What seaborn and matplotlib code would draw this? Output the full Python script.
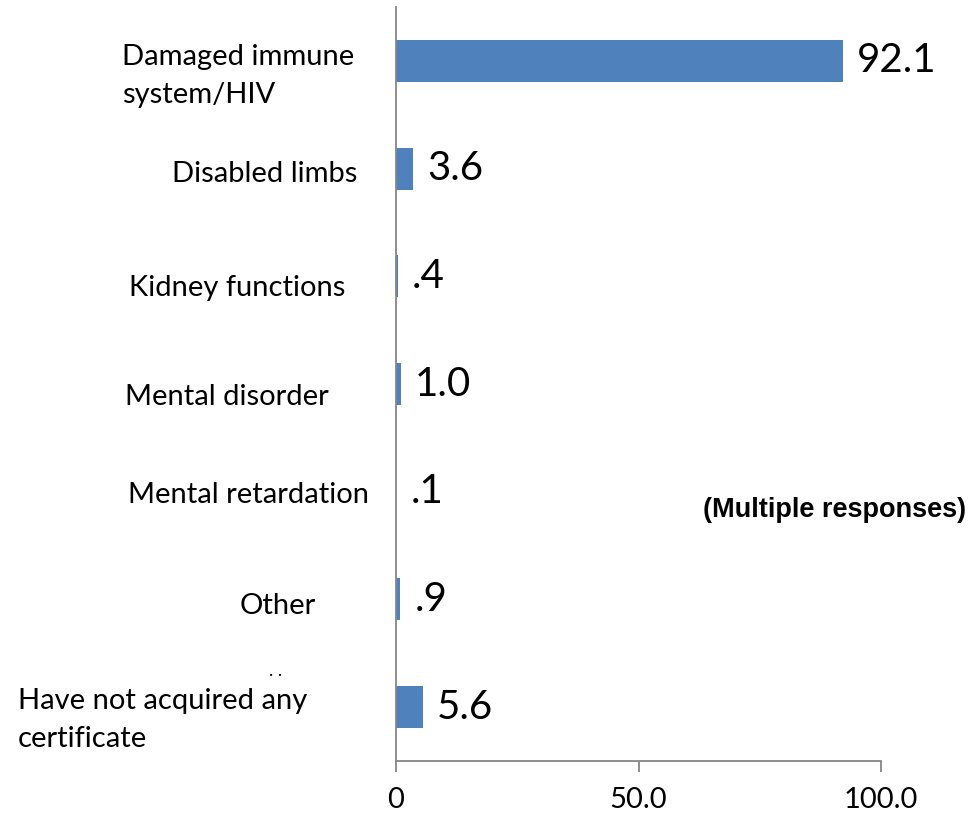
import numpy as np
import pandas as pd
import matplotlib
matplotlib.use("Agg")
import matplotlib.pyplot as plt
import matplotlib.transforms as mtransforms
import seaborn as sns

# ---- data ----
categories = [
    "Damaged immune\nsystem/HIV",
    "Disabled limbs",
    "Kidney functions",
    "Mental disorder",
    "Mental retardation",
    "Other",
    "Have not acquired any\ncertificate",
]
values = [92.1, 3.6, 0.4, 1.0, 0.1, 0.9, 5.6]
value_labels = ["92.1", "3.6", ".4", "1.0", ".1", ".9", "5.6"]
x_ticks = [0, 50, 100]
x_tick_labels = ["0", "50.0", "100.0"]
note_text = "(Multiple responses)"

# ---- style ----
sns.set_style("white")
plt.rcParams["font.family"] = ["Lato", "DejaVu Sans"]
plt.rcParams["text.color"] = "black"
plt.rcParams["xtick.labelcolor"] = "black"

W, H = 969, 817
fig = plt.figure(figsize=(W / 100, H / 100), dpi=100)
ax = fig.add_axes([396 / W, 1 - 761 / H, 485 / W, 754 / H])

df = pd.DataFrame({"category": categories, "value": values})
sns.barplot(data=df, x="value", y="category", orient="h", color="#4F81BD",
            saturation=1, width=0.39, linewidth=0, ax=ax)

ax.set_xlim(0, 100)
ax.set_ylim(len(categories) - 0.5, -0.5)
ax.set_xlabel("")
ax.set_ylabel("")
ax.set_xticks(x_ticks)
ax.set_xticklabels(x_tick_labels, fontsize=21, color="black")
ax.set_yticks([])
ax.tick_params(axis="x", direction="out", length=8, width=1.3, color="#868686",
               pad=11, bottom=True)
for side in ["top", "right"]:
    ax.spines[side].set_visible(False)
for side in ["left", "bottom"]:
    ax.spines[side].set_color("#868686")
    ax.spines[side].set_linewidth(1.3)

# value labels
ax.bar_label(ax.containers[0], labels=value_labels, padding=10, fontsize=29,
             color="black")

# category labels (Excel-style placement)
label_layout = [  # (x px, ha, dy px)
    (122, "left", 15),
    (357, "right", 5),
    (345, "right", 12),
    (329, "right", 13),
    (369, "right", 3),
    (316, "right", 7),
    (18, "left", 13),
]
band = 754 / len(categories)
trans = mtransforms.blended_transform_factory(fig.transFigure, ax.transData)
for i, (cat, (xp, ha, dy)) in enumerate(zip(categories, label_layout)):
    ax.text(xp / W, i + dy / band, cat, transform=trans, ha=ha, va="center",
            fontsize=21, linespacing=1.55, color="black", clip_on=False)

# clipped remnant marks
ax.text(276 / W, 5 + 72 / band, ". .", transform=trans, ha="center",
        va="center", fontsize=13, color="black", clip_on=False)

fig.text(966 / W, 1 - 510 / H, note_text, ha="right", va="center",
         fontsize=19.5, fontweight="bold", color="black",
         family=["Liberation Sans", "DejaVu Sans"])

fig.savefig("out.png", dpi=100, facecolor="white")
